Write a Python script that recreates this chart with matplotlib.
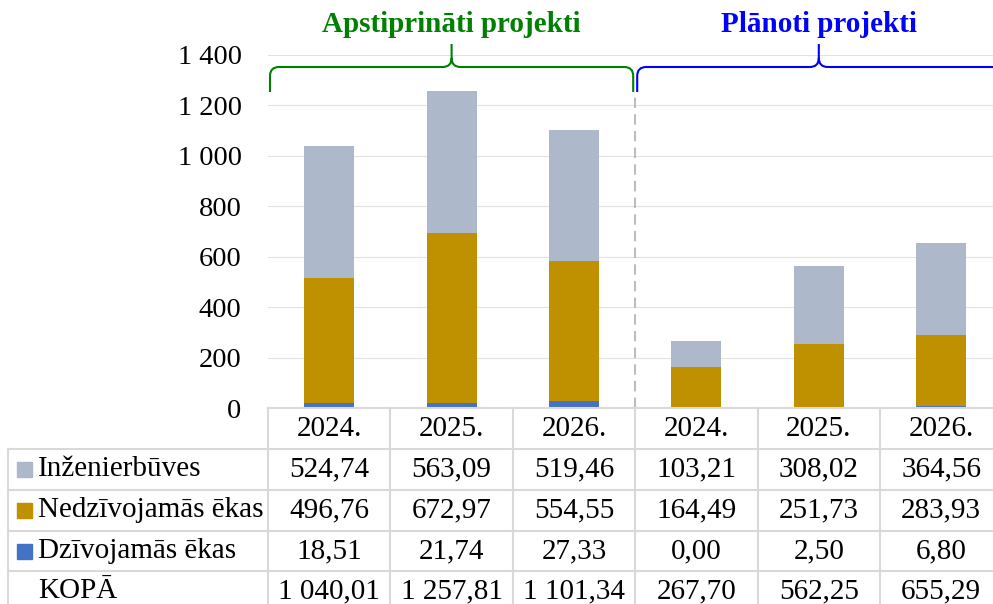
import matplotlib
matplotlib.use("Agg")
import matplotlib.pyplot as plt
from matplotlib.path import Path
from matplotlib.patches import PathPatch, Rectangle

plt.rcParams['font.family'] = ['Liberation Serif', 'DejaVu Serif']

# dati
gadi = ['2024.', '2025.', '2026.', '2024.', '2025.', '2026.']
inzenierbuves = [524.74, 563.09, 519.46, 103.21, 308.02, 364.56]
nedzivojamas = [496.76, 672.97, 554.55, 164.49, 251.73, 283.93]
dzivojamas = [18.51, 21.74, 27.33, 0.00, 2.50, 6.80]
kopa = [1040.01, 1257.81, 1101.34, 267.70, 562.25, 655.29]
y_ticks = [0, 200, 400, 600, 800, 1000, 1200, 1400]

rindas = ['Inženierbūves', 'Nedzīvojamās ēkas', 'Dzīvojamās ēkas', 'KOPĀ']
krasas = ['#adb9ca', '#bf9000', '#4472c4', None]
grupas = ['Apstiprināti projekti', 'Plānoti projekti']
grupu_krasas = ['#008000', '#0000ff']

def fmt(v, dec=2):
    s = f"{v:,.{dec}f}"
    return s.replace(',', ' ').replace('.', ',')

W, H = 993, 604
x_left, col_w = 268, 122.4
y0, y_top = 408, 55
grid_c = '#d9d9d9'
fs = 21

fig = plt.figure(figsize=(W / 100, H / 100), dpi=100)
ax = fig.add_axes([x_left / W, (H - y0) / H, 6 * col_w / W, (y0 - y_top) / H])

x = range(len(gadi))
ax.bar(x, dzivojamas, width=0.41, color=krasas[2], zorder=3)
ax.bar(x, nedzivojamas, width=0.41, bottom=dzivojamas, color=krasas[1], zorder=3)
apaksa = [a + b for a, b in zip(dzivojamas, nedzivojamas)]
ax.bar(x, inzenierbuves, width=0.41, bottom=apaksa, color=krasas[0], zorder=3)

ax.set_xlim(-0.5, 5.5)
ax.set_ylim(0, 1400)
ax.set_yticks(y_ticks)
ax.set_yticklabels([fmt(t, 0) for t in y_ticks], fontsize=20.5)
ax.tick_params(axis='y', length=0, pad=19)
ax.set_xticks([])
ax.yaxis.grid(True, color='#e2e2e2', lw=0.8)
ax.set_axisbelow(True)
for s in ax.spines.values():
    s.set_visible(False)
# atdalītājs starp grupām
ax.plot([2.5, 2.5], [0, 1255], ls=(0, (5, 3)), color='#bdbdbd', lw=1.5, zorder=2)

# pārklājuma asis tabulai un iekavām
ov = fig.add_axes([0, 0, 1, 1])
ov.set_xlim(0, W)
ov.set_ylim(H, 0)
ov.axis('off')
ov.patch.set_visible(False)

def col_x(i):
    return x_left + (i + 0.5) * col_w

# tabulas līnijas
right = W + 20
ov.plot([x_left, right], [y0, y0], color=grid_c, lw=1.5)
for yy in [449, 489.5, 530.5, 571]:
    ov.plot([8, right], [yy, yy], color=grid_c, lw=1.5)
ov.plot([8, 8], [449, H + 5], color=grid_c, lw=1.5)
for k in range(6):
    xx = x_left + k * col_w
    ov.plot([xx, xx], [y0, H + 5], color=grid_c, lw=1.5)

# tabulas teksts
for i, g in enumerate(gadi):
    ov.text(col_x(i), 429, g, ha='center', va='center', fontsize=fs)
vertibas = [inzenierbuves, nedzivojamas, dzivojamas, kopa]
rindu_y = [469.5, 510, 551, 591]
for r, (nos, kr, vals, yy) in enumerate(zip(rindas, krasas, vertibas, rindu_y)):
    if kr is not None:
        ov.add_patch(Rectangle((17, yy - 7.5), 15, 15, color=kr))
    ov.text(38, yy, nos, ha='left', va='center', fontsize=fs)
    for i, v in enumerate(vals):
        ov.text(col_x(i), yy, fmt(v), ha='center', va='center', fontsize=fs)

# figūriekavas
def iekava(x0, x1, color, y_base=67, y_end=92, y_tip=44, r=9):
    xc = (x0 + x1) / 2
    verts = [(x0, y_end), (x0, y_base + r), (x0, y_base), (x0 + r, y_base),
             (xc - r, y_base), (xc, y_base), (xc, y_base - r), (xc, y_tip),
             (xc, y_base - r), (xc, y_base), (xc + r, y_base),
             (x1 - r, y_base), (x1, y_base), (x1, y_base + r), (x1, y_end)]
    codes = [Path.MOVETO, Path.LINETO, Path.CURVE3, Path.CURVE3,
             Path.LINETO, Path.CURVE3, Path.CURVE3, Path.LINETO,
             Path.MOVETO, Path.CURVE3, Path.CURVE3,
             Path.LINETO, Path.CURVE3, Path.CURVE3, Path.LINETO]
    ov.add_patch(PathPatch(Path(verts, codes), fill=False, edgecolor=color,
                           lw=1.5, clip_on=False))
    return xc

for k, (nos, kr) in enumerate(zip(grupas, grupu_krasas)):
    xa = x_left + 3 * k * col_w + 2
    xb = x_left + 3 * (k + 1) * col_w - 2
    xc = iekava(xa, xb, kr)
    ov.text(xc, 25, nos, ha='center', va='center', fontsize=21,
            fontweight='bold', color=kr)

fig.savefig('out.png', dpi=100)
